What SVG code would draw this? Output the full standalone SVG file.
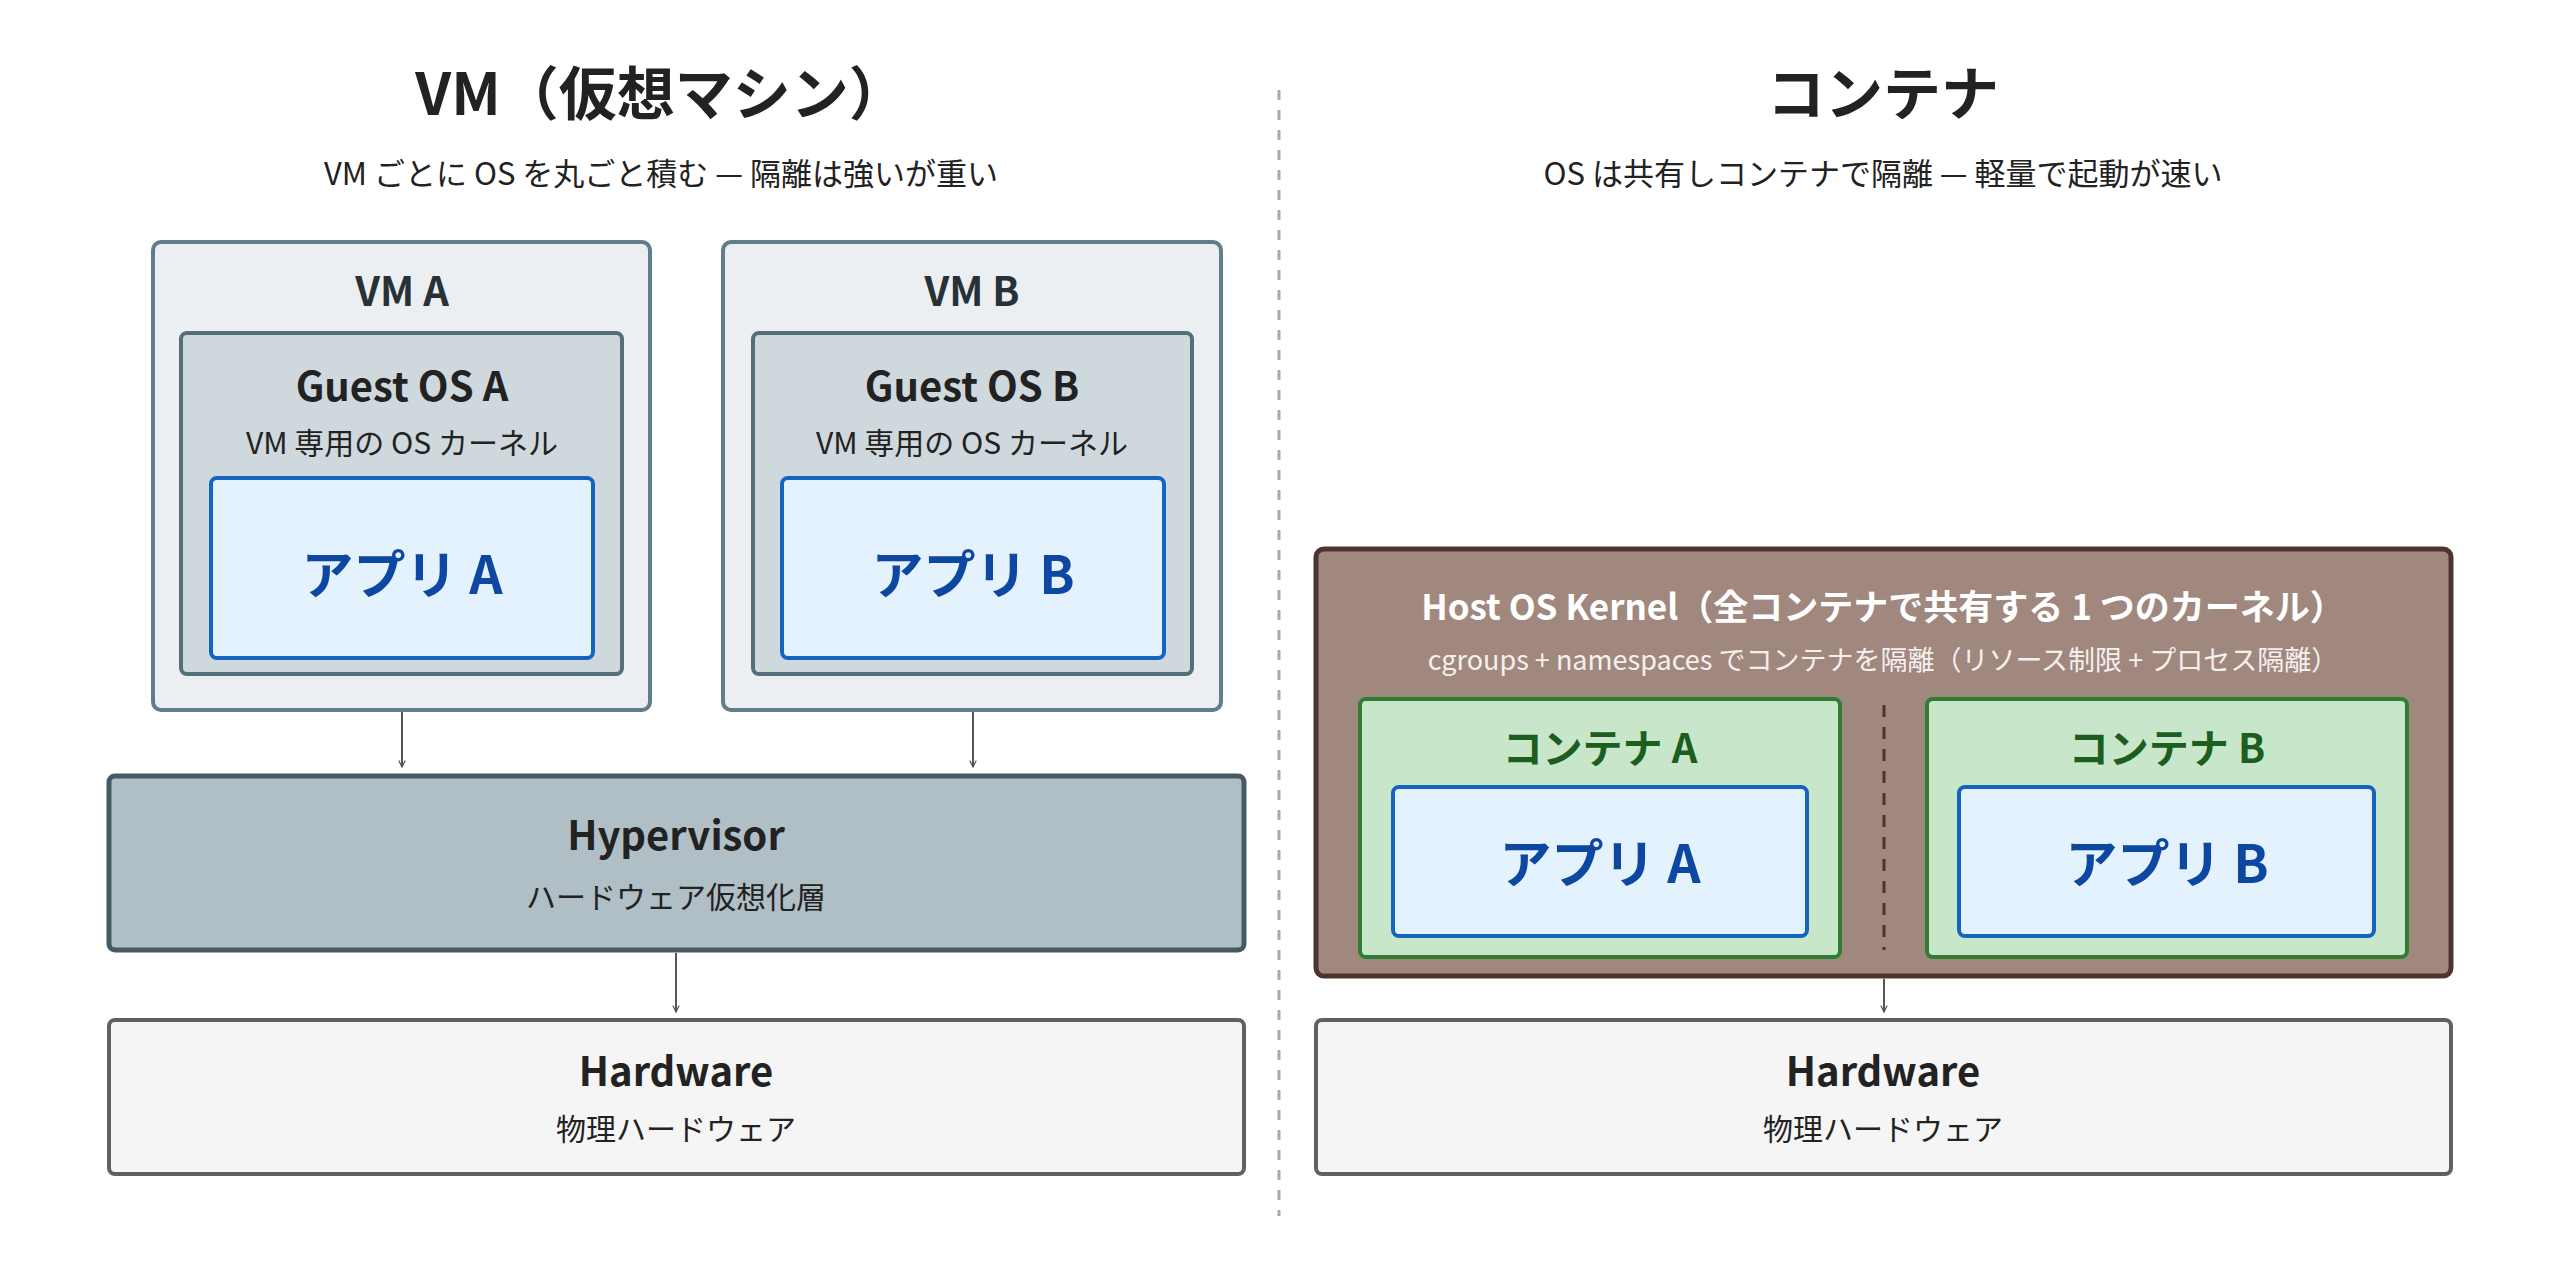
<svg xmlns="http://www.w3.org/2000/svg" width="2560" height="1262" viewBox="0 0 2560 1262">
<defs>
<marker id="ah" viewBox="0 0 10 10" refX="9" refY="5" markerWidth="8" markerHeight="8" orient="auto" markerUnits="userSpaceOnUse"><path d="M1,1 L9,5 L1,9" fill="none" stroke="#555" stroke-width="1.5"/></marker>
<style>
text{font-family:"Noto Sans CJK JP","Noto Sans",sans-serif;text-anchor:middle;dominant-baseline:central}
.t{font-size:58px;font-weight:700;fill:#222}
.st{font-size:31px;fill:#222}
.b{font-size:40px;font-weight:700}
.s{font-size:30px;fill:#222}
.app{font-size:52px;font-weight:700;fill:#0d47a1}
.arr{stroke:#555;stroke-width:2;fill:none;marker-end:url(#ah)}
</style>
</defs>
<rect width="2560" height="1262" fill="#fff"/>
<text class="t" x="661" y="90">VM（仮想マシン）</text>
<text class="st" x="661" y="171">VM ごとに OS を丸ごと積む — 隔離は強いが重い</text>
<text class="t" x="1883" y="90">コンテナ</text>
<text class="st" x="1883" y="171">OS は共有しコンテナで隔離 — 軽量で起動が速い</text>
<line x1="1279" y1="90" x2="1279" y2="1216" stroke="#aaa" stroke-width="3" stroke-dasharray="10,10"/>
<g id="vmA">
<rect x="153" y="242" width="497" height="468" rx="8" fill="#eceff1" stroke="#607d8b" stroke-width="4"/>
<text class="b" x="402" y="289" fill="#263238">VM A</text>
<rect x="181" y="333" width="441" height="341" rx="6" fill="#cfd8dc" stroke="#546e7a" stroke-width="4"/>
<text class="b" x="402" y="384" fill="#222" font-size="44">Guest OS A</text>
<text class="s" x="402" y="441">VM 専用の OS カーネル</text>
<rect x="211" y="478" width="382" height="180" rx="6" fill="#e3f2fd" stroke="#1565c0" stroke-width="4"/>
<text class="app" x="402" y="571">アプリ A</text>
</g>
<g id="vmB">
<rect x="723" y="242" width="498" height="468" rx="8" fill="#eceff1" stroke="#607d8b" stroke-width="4"/>
<text class="b" x="972" y="289" fill="#263238">VM B</text>
<rect x="753" y="333" width="439" height="341" rx="6" fill="#cfd8dc" stroke="#546e7a" stroke-width="4"/>
<text class="b" x="972" y="384" fill="#222" font-size="44">Guest OS B</text>
<text class="s" x="972" y="441">VM 専用の OS カーネル</text>
<rect x="782" y="478" width="382" height="180" rx="6" fill="#e3f2fd" stroke="#1565c0" stroke-width="4"/>
<text class="app" x="973" y="571">アプリ B</text>
</g>
<g id="hypervisor">
<rect x="109" y="776" width="1135" height="174" rx="6" fill="#b0bec5" stroke="#455a64" stroke-width="5"/>
<text class="b" x="676" y="833" fill="#222" font-size="48">Hypervisor</text>
<text class="s" x="676" y="895">ハードウェア仮想化層</text>
</g>
<g id="hwL">
<rect x="109" y="1020" width="1135" height="154" rx="6" fill="#f5f5f5" stroke="#616161" stroke-width="4"/>
<text class="b" x="676" y="1069" fill="#222" font-size="48">Hardware</text>
<text class="s" x="676" y="1127">物理ハードウェア</text>
</g>
<g id="hostKernel">
<rect x="1316" y="549" width="1135" height="427" rx="8" fill="#a1887f" stroke="#4e342e" stroke-width="5"/>
<text x="1883" y="604" font-size="35" font-weight="700" fill="#fff">Host OS Kernel（全コンテナで共有する 1 つのカーネル）</text>
<text x="1883" y="658" font-size="27" fill="#f5f0ee">cgroups + namespaces でコンテナを隔離（リソース制限 + プロセス隔離）</text>
<line x1="1884" y1="705" x2="1884" y2="950" stroke="#4e342e" stroke-width="3" stroke-dasharray="12,10"/>
</g>
<g id="containerA">
<rect x="1360" y="699" width="480" height="258" rx="6" fill="#c8e6c9" stroke="#2e7d32" stroke-width="4"/>
<text class="b" x="1600" y="746" fill="#1b5e20" font-size="38">コンテナ A</text>
<rect x="1393" y="787" width="414" height="149" rx="6" fill="#e3f2fd" stroke="#1565c0" stroke-width="4"/>
<text class="app" x="1600" y="860">アプリ A</text>
</g>
<g id="containerB">
<rect x="1927" y="699" width="480" height="258" rx="6" fill="#c8e6c9" stroke="#2e7d32" stroke-width="4"/>
<text class="b" x="2167" y="746" fill="#1b5e20" font-size="38">コンテナ B</text>
<rect x="1959" y="787" width="415" height="149" rx="6" fill="#e3f2fd" stroke="#1565c0" stroke-width="4"/>
<text class="app" x="2167" y="860">アプリ B</text>
</g>
<g id="hwR">
<rect x="1316" y="1020" width="1135" height="154" rx="6" fill="#f5f5f5" stroke="#616161" stroke-width="4"/>
<text class="b" x="1883" y="1069" fill="#222" font-size="48">Hardware</text>
<text class="s" x="1883" y="1127">物理ハードウェア</text>
</g>
<g id="connectors">
<line class="arr" x1="402" y1="712" x2="402" y2="767"/>
<line class="arr" x1="973" y1="712" x2="973" y2="767"/>
<line class="arr" x1="676" y1="953" x2="676" y2="1012"/>
<line class="arr" x1="1884" y1="979" x2="1884" y2="1012"/>
</g>
</svg>
